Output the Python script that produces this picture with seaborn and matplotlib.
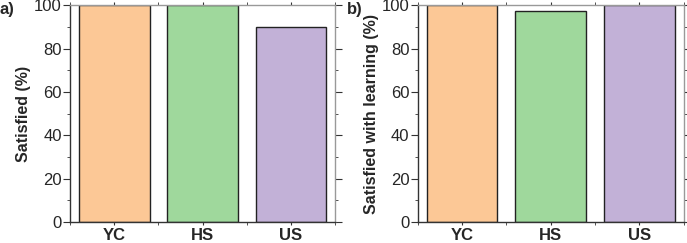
import seaborn as sns
import pandas as pd
import numpy as np
import matplotlib.pyplot as plt
from matplotlib.ticker import MultipleLocator

# data
groups = ['YC', 'HS', 'US']
satisfied = [100, 100, 90]
satisfied_learning = [100, 97.4, 100]
colors = ['#FCC896', '#9FD89C', '#C2B1D7']

sns.set_style('ticks')
plt.rcParams['font.family'] = ['Liberation Sans', 'DejaVu Sans']

fig = plt.figure(figsize=(6.87, 2.43), dpi=100)
ax1 = fig.add_axes([0.102, 0.086, 0.386, 0.893])
ax2 = fig.add_axes([0.608, 0.086, 0.387, 0.893])

panels = [(ax1, satisfied, 'Satisfied (%)', 'a)'),
          (ax2, satisfied_learning, 'Satisfied with learning (%)', 'b)')]

for ax, vals, ylab, tag in panels:
    df = pd.DataFrame({'group': groups, 'value': vals})
    sns.barplot(data=df, x='group', y='value', hue='group', palette=colors,
                width=0.8, edgecolor='#222222', linewidth=1.0, saturation=1,
                legend=False, ax=ax)
    ax.set_ylim(0, 100)
    ax.set_xlim(-0.5, 2.5)
    ax.yaxis.set_major_locator(MultipleLocator(20))
    ax.yaxis.set_minor_locator(MultipleLocator(10))
    ax.xaxis.set_minor_locator(MultipleLocator(0.5))
    ax.set_xlabel('')
    ax.set_ylabel(ylab, fontsize=11.5, fontweight='bold', labelpad=2)
    for s in ['left', 'bottom']:
        ax.spines[s].set_color('#333333')
        ax.spines[s].set_linewidth(1.0)
    for s in ['top', 'right']:
        ax.spines[s].set_visible(True)
        ax.spines[s].set_color('#999999')
        ax.spines[s].set_linewidth(1.0)
    ax.tick_params(axis='y', which='both', right=True, direction='out',
                   labelsize=12, color='#333333', pad=1)
    ax.tick_params(axis='y', which='major', length=5)
    ax.tick_params(axis='y', which='minor', length=2.5)
    ax.tick_params(axis='x', which='both', top=True, direction='out',
                   length=2.5, labelsize=12, color='#333333', pad=2)
    for lbl in ax.get_xticklabels():
        lbl.set_fontweight('bold')
    ax.text(-0.265, 0.982, tag, transform=ax.transAxes, fontsize=12,
            fontweight='bold', va='center', ha='left')

fig.savefig('out.png', dpi=100)
